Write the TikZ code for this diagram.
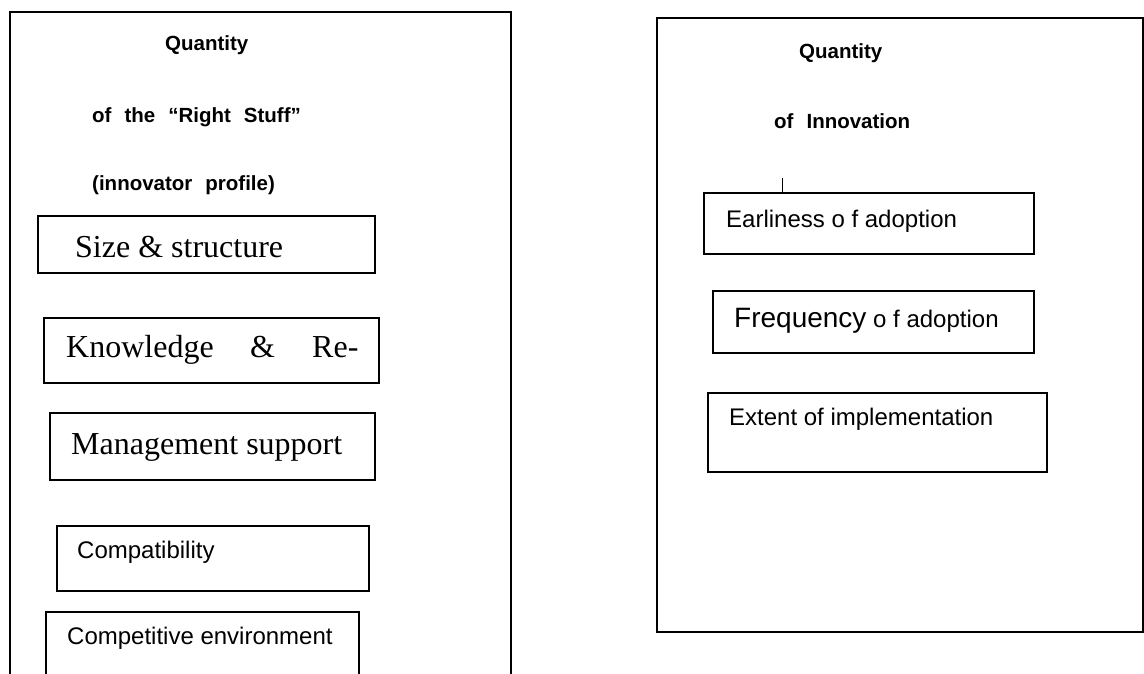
\documentclass[tikz,border=0pt]{standalone}
\usepackage{fontspec}
\setmainfont{Liberation Serif}
\setsansfont{Liberation Sans}
\newcommand\widewords{\spaceskip=13pt plus 1pt\relax}
\begin{document}
\begin{tikzpicture}[x=1pt,y=-1pt,
  panel/.style={draw,line width=1.8pt,rectangle,inner sep=0pt},
  box/.style={draw,line width=1.5pt,rectangle,inner sep=0pt},
  ttl/.style={anchor=base west,inner sep=0pt,font=\sffamily\bfseries\fontsize{20.5}{24}\selectfont\widewords},
  sertxt/.style={anchor=base west,inner sep=0pt,font=\rmfamily\fontsize{32}{38}\selectfont},
  santxt/.style={anchor=base west,inner sep=0pt,font=\sffamily\fontsize{24}{28}\selectfont}]
\useasboundingbox (0,0) rectangle (1144,673);
% panels
\node[panel,minimum width=501pt,minimum height=700pt] (lp) at (260.5,362) {};
\node[panel,minimum width=486pt,minimum height=614pt] (rp) at (900,325) {};
% left titles
\node[ttl] (lq) at (165,50) {Quantity};
\node[ttl] (lrs) at (92,122) {of the “Right Stuff”};
\node[ttl] (lip) at (92,190) {(innovator profile)};
% left boxes
\node[box,minimum width=337pt,minimum height=57pt] (sz) at (206.5,244.5) {};
\node[sertxt] (szt) at (75,257) {Size \& structure};
\node[box,minimum width=335pt,minimum height=65pt] (kn) at (211.5,350.5) {};
\node[sertxt] (knt1) at (66,357) {Knowledge};
\node[sertxt] (knt2) at (250,357) {\&};
\node[sertxt] (knt3) at (312,357) {Re-};
\node[box,minimum width=325pt,minimum height=67pt] (mg) at (212.5,446.5) {};
\node[sertxt] (mgt) at (71,454) {Management support};
\node[box,minimum width=312pt,minimum height=65pt] (cp) at (213,558.5) {};
\node[santxt] (cpt) at (77,558) {Compatibility};
\node[box,minimum width=313pt,minimum height=100pt] (ce) at (202.5,662) {};
\node[santxt] (cet) at (67,644) {Competitive environment};
% right titles
\node[ttl] (rq) at (799,58) {Quantity};
\node[ttl] (ri) at (774,128) {of Innovation};
% right boxes
\node[box,minimum width=330pt,minimum height=61pt] (ea) at (869,223.5) {};
\node[santxt] (eat) at (726,227) {Earliness o f adoption};
\node[box,minimum width=321pt,minimum height=62pt] (fr) at (873.5,322) {};
\node[santxt,font=\sffamily\fontsize{28}{32}\selectfont] (frt1) at (734,327) {Frequency};
\node[santxt] (frt2) at (873,327) {o f adoption};
\node[box,minimum width=339pt,minimum height=79pt] (ex) at (877.5,432.5) {};
\node[santxt] (ext) at (729,425) {Extent of implementation};
% tick
\coordinate (tk) at (782,178);
\draw[line width=1pt] (tk) -- (tk |- ea.north);
\end{tikzpicture}
\end{document}
